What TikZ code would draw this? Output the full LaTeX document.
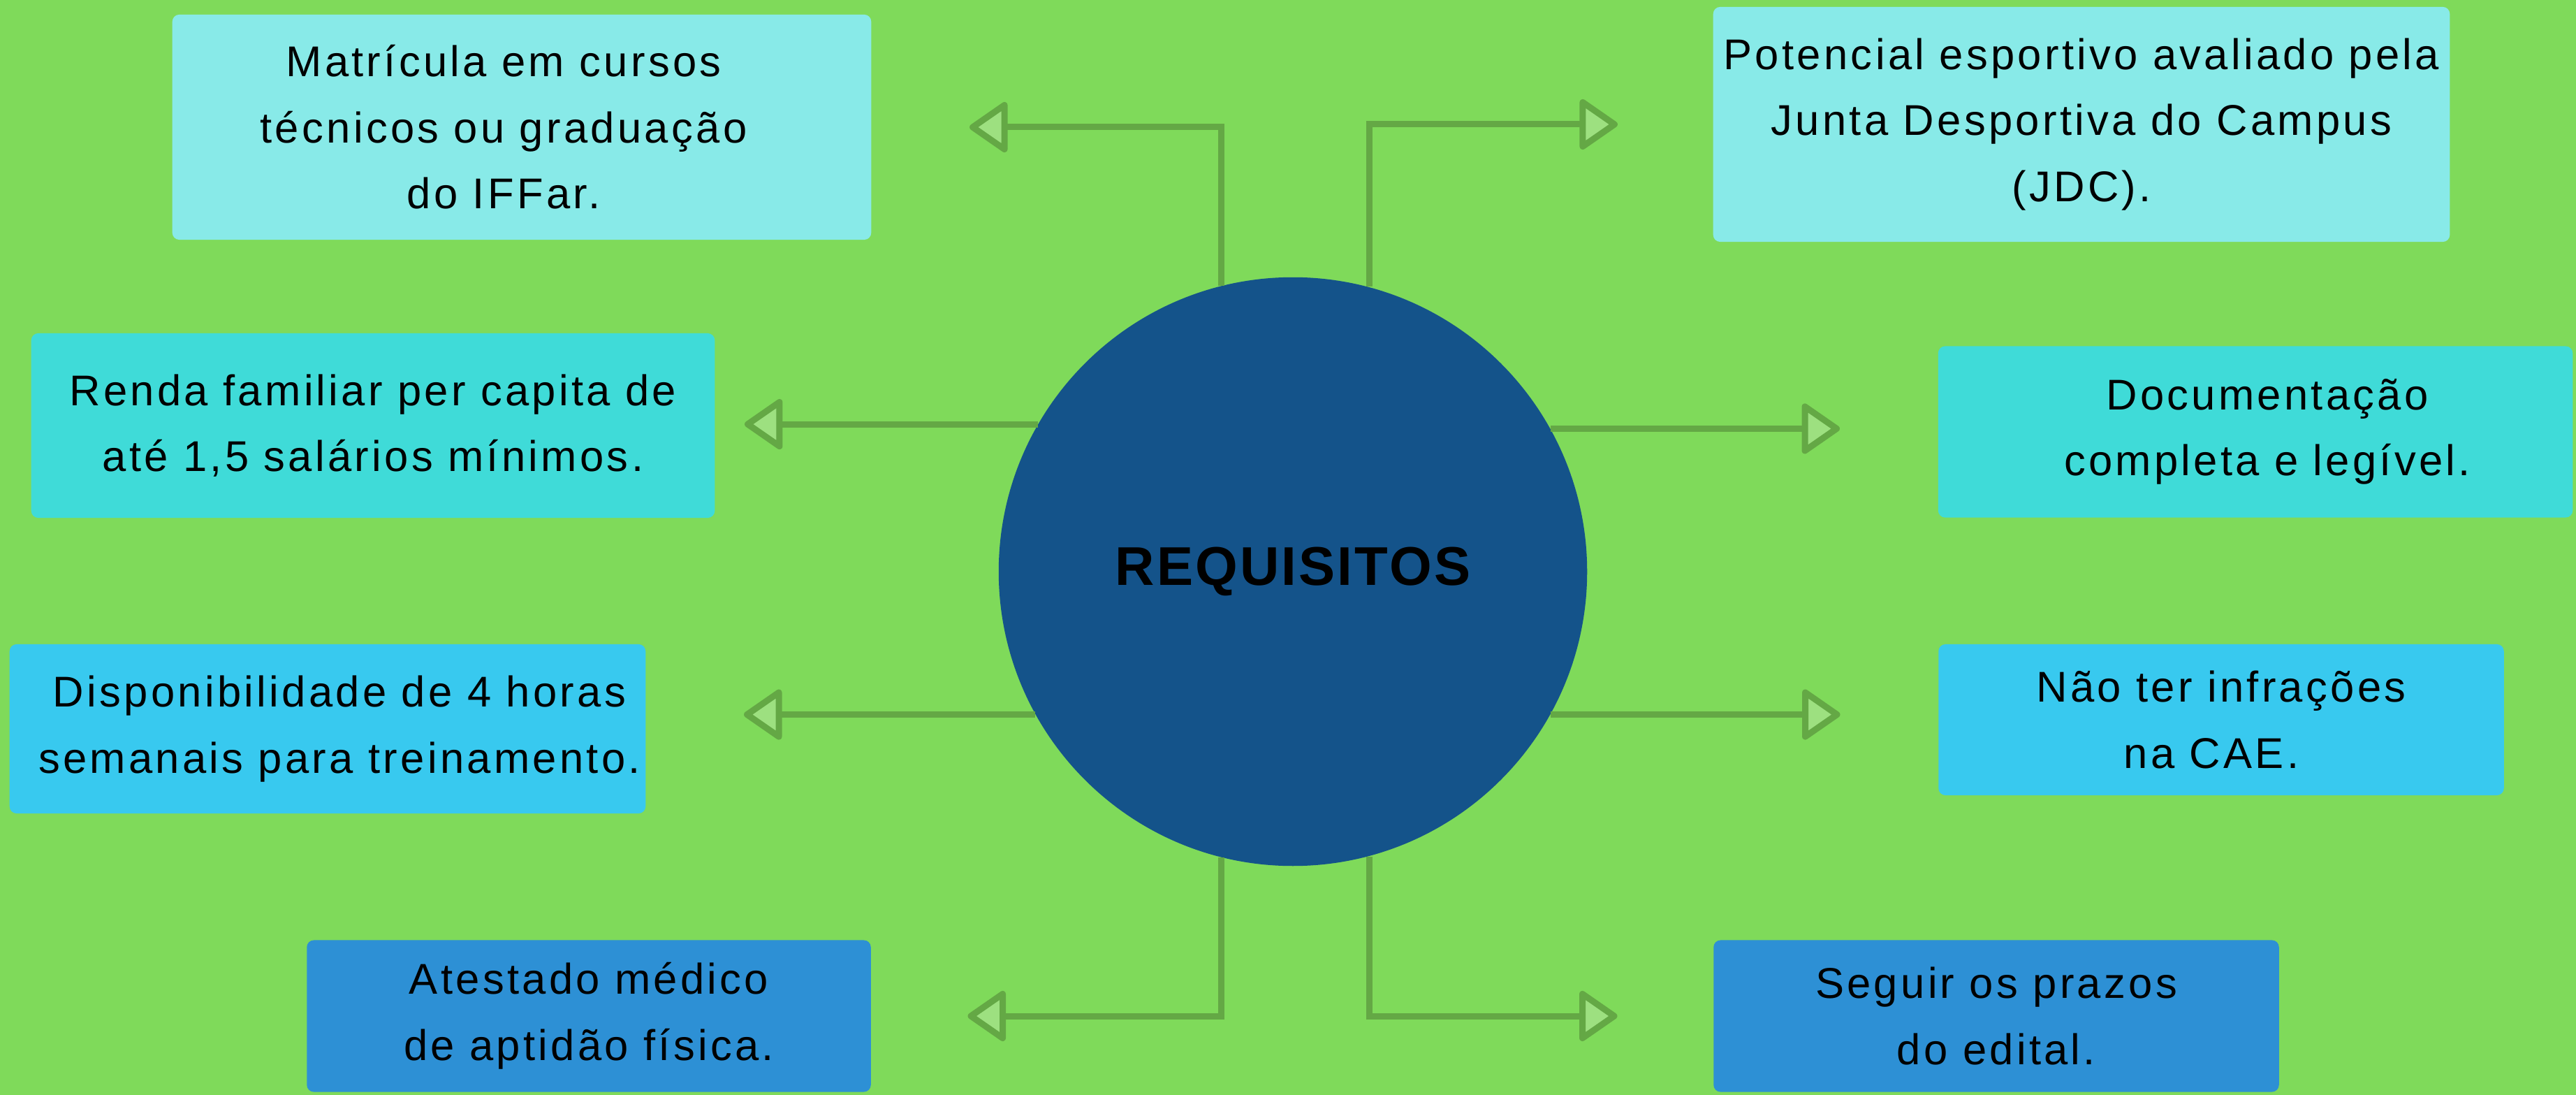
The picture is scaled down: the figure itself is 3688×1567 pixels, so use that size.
\documentclass[tikz,border=0pt]{standalone}
\usepackage{fontspec}
\setmainfont{Liberation Sans}
\newfontfamily\boxfont{Liberation Sans}[LetterSpace=7]
\newfontfamily\titlefont{Liberation Sans}[LetterSpace=4]
\usetikzlibrary{arrows.meta,positioning}
\definecolor{bggreen}{HTML}{7FDA5A}
\definecolor{linegreen}{HTML}{64A845}
\definecolor{tipgreen}{HTML}{9DE080}
\definecolor{reqblue}{HTML}{14538A}
\definecolor{boxa}{HTML}{88EAE8}
\definecolor{boxb}{HTML}{3FDBD8}
\definecolor{boxc}{HTML}{38C9EF}
\definecolor{boxd}{HTML}{2D90D5}
\newcommand{\pushr}{\hspace*{0.34cm}}
\newcommand{\pushl}{\hspace*{-0.52cm}}

\begin{document}
\begin{tikzpicture}[x=0.01cm,y=-0.01cm,
 >={Triangle[length=5.8mm,width=7.8mm,fill=tipgreen,round]},
 box/.style={rounded corners=1mm,align=center,inner sep=0pt,
  font=\boxfont\fontsize{17.5}{26.9}\selectfont},
 link/.style={draw=linegreen,line width=0.9mm,->}]
\fill[bggreen] (0,0) rectangle (3688,1567);
\node[circle,fill=reqblue,minimum size=8.42cm,inner sep=0pt,
 font=\titlefont\bfseries\fontsize{22.2}{26}\selectfont] (req) at (1851,818) {REQUISITOS};
% caixas da esquerda
\node[box,fill=boxa,minimum width=10cm,minimum height=3.22cm] (matr) at (747,182) {\pushl Matrícula em cursos\\\pushl técnicos ou graduação\\\pushl do IFFar.};
\node[box,fill=boxb,minimum width=9.78cm,minimum height=2.64cm] (renda) at (534,609) {Renda familiar per capita de\\até 1,5 salários mínimos.};
\node[box,fill=boxc,minimum width=9.1cm,minimum height=2.42cm] (disp) at (469,1043) {\pushr Disponibilidade de 4 horas\\\pushr semanais para treinamento.};
\node[box,fill=boxd,minimum width=8.07cm,minimum height=2.17cm] (atest) at (843,1454) {Atestado médico\\de aptidão física.};
% caixas da direita
\node[box,fill=boxa,minimum width=10.54cm,minimum height=3.36cm] (pot) at (2980,178) {Potencial esportivo avaliado pela\\Junta Desportiva do Campus\\(JDC).};
\node[box,fill=boxb,minimum width=9.08cm,minimum height=2.45cm] (doc) at (3229,618) {\pushr Documentação\\\pushr completa e legível.};
\node[box,fill=boxc,minimum width=8.09cm,minimum height=2.16cm] (infr) at (3180,1030) {Não ter infrações\\\hspace*{-0.28cm}na CAE.};
\node[box,fill=boxd,minimum width=8.09cm,minimum height=2.17cm] (prazo) at (2858,1454) {Seguir os prazos\\do edital.};
% setas
\draw[link,shorten >=1.4cm] (req.104.8) |- (matr);
\draw[link,shorten >=1.36cm] (req.75.2) |- (pot);
\draw[link,shorten >=0.42cm] (req.150.2) -- (req.150.2 -| renda.east);
\draw[link,shorten >=1.4cm] (req.209.6) -- (req.209.6 -| disp.east);
\draw[link,shorten >=1.4cm] (req.29.8) -- (req.29.8 -| doc.west);
\draw[link,shorten >=1.4cm] (req.-29.6) -- (req.-29.6 -| infr.west);
\draw[link,shorten >=1.38cm] (req.-104.8) |- (atest);
\draw[link,shorten >=1.37cm] (req.-75.2) |- (prazo);
\end{tikzpicture}
\end{document}
